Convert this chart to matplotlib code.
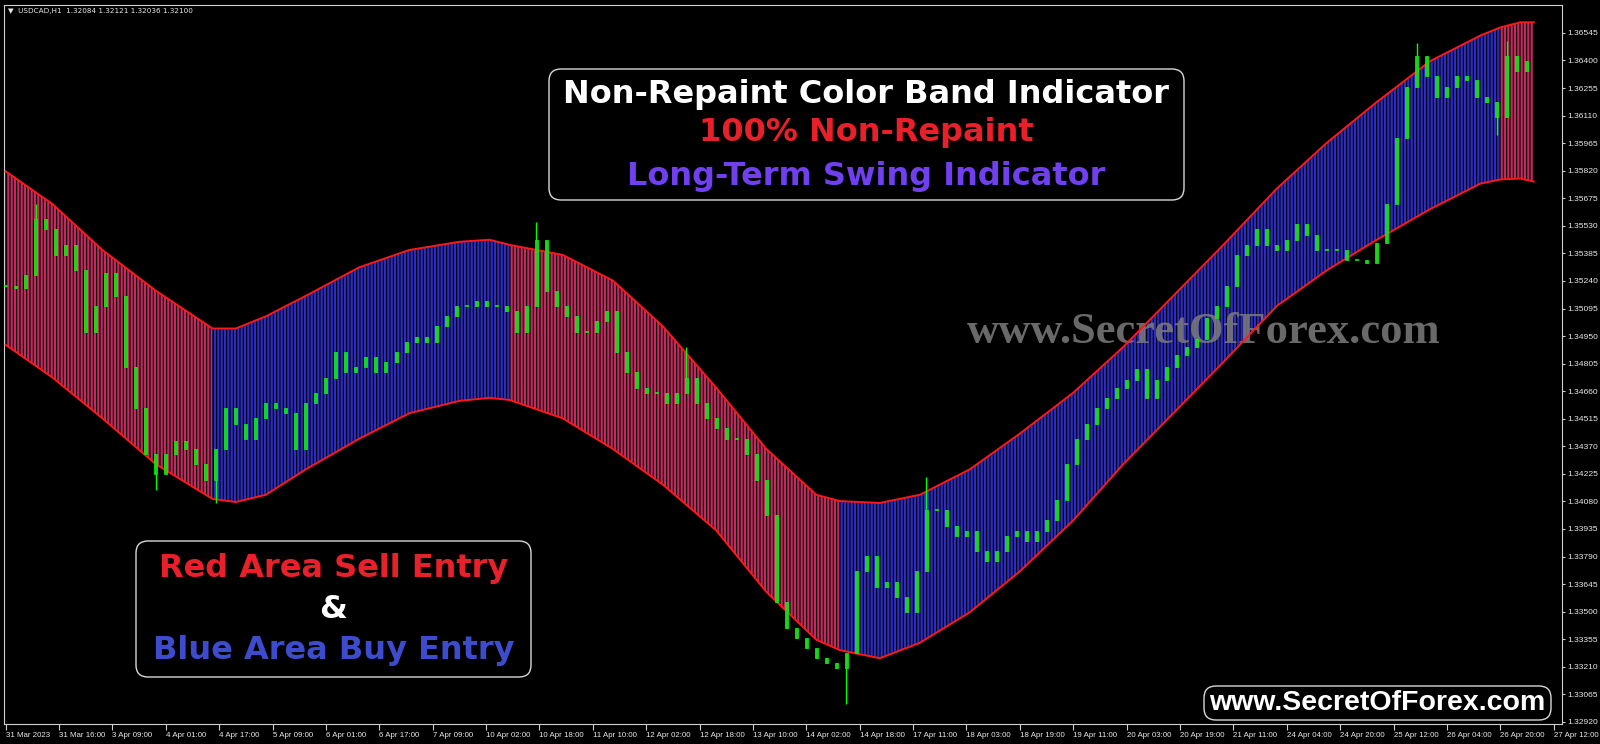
import numpy as np
import matplotlib.pyplot as plt
from matplotlib.patches import FancyBboxPatch

# ---- band (bar index, price) ----
band_x = [0, 14, 29, 45, 62, 69, 78, 90, 106, 121, 136, 145, 151, 167, 182, 197, 213, 228, 243, 250,
          262, 274, 289, 304, 320, 335, 350, 365, 381, 396, 411, 427, 442, 448, 454, 458]
band_upper = [1.35817, 1.35645, 1.35403, 1.35189, 1.34990, 1.34990, 1.35054, 1.35162, 1.35312, 1.35403,
              1.35446, 1.35457, 1.35430, 1.35377, 1.35242, 1.35001, 1.34678, 1.34356, 1.34115, 1.34082,
              1.34072, 1.34115, 1.34249, 1.34437, 1.34652, 1.34893, 1.35162, 1.35430, 1.35726, 1.35967,
              1.36182, 1.36397, 1.36531, 1.36574, 1.36601, 1.36601]
band_lower = [1.34904, 1.34732, 1.34517, 1.34276, 1.34093, 1.34077, 1.34115, 1.34249, 1.34410, 1.34544,
              1.34609, 1.34625, 1.34614, 1.34517, 1.34356, 1.34168, 1.33927, 1.33604, 1.33352, 1.33298,
              1.33255, 1.33336, 1.33497, 1.33712, 1.33980, 1.34276, 1.34544, 1.34813, 1.35108, 1.35296,
              1.35457, 1.35618, 1.35752, 1.35774, 1.35779, 1.35763]
zone_edges = [0, 62, 151, 250, 448, 458]
zone_kind = ['sell', 'buy', 'sell', 'buy', 'sell']

# ---- candles (one every 3 bars) ----
candle_x = list(range(0, 457, 3))
closes = [1.35215, 1.35205, 1.35269, 1.35564, 1.35511, 1.35377, 1.35430, 1.35296, 1.34974, 1.35108,
          1.35280, 1.35162, 1.34786, 1.34571, 1.34329, 1.34222, 1.34329, 1.34399, 1.34356, 1.34276,
          1.34195, 1.34356, 1.34571, 1.34490, 1.34410, 1.34517, 1.34598, 1.34571, 1.34544, 1.34356,
          1.34598, 1.34652, 1.34732, 1.34866, 1.34759, 1.34786, 1.34840, 1.34759, 1.34813, 1.34866,
          1.34920, 1.34947, 1.34920, 1.35001, 1.35054, 1.35108, 1.35108, 1.35135, 1.35108, 1.35108,
          1.35081, 1.34974, 1.35108, 1.35457, 1.35189, 1.35108, 1.35054, 1.34974, 1.34974, 1.35027,
          1.35081, 1.34866, 1.34759, 1.34678, 1.34652, 1.34652, 1.34598, 1.34652, 1.34732, 1.34598,
          1.34517, 1.34464, 1.34410, 1.34410, 1.34329, 1.34195, 1.34007, 1.33551, 1.33416, 1.33363,
          1.33309, 1.33255, 1.33229, 1.33202, 1.33282, 1.33712, 1.33792, 1.33631, 1.33658, 1.33578,
          1.33497, 1.33712, 1.34034, 1.34034, 1.33953, 1.33900, 1.33927, 1.33819, 1.33766, 1.33819,
          1.33900, 1.33927, 1.33873, 1.33927, 1.33980, 1.34088, 1.34276, 1.34410, 1.34490, 1.34571,
          1.34625, 1.34678, 1.34721, 1.34775, 1.34625, 1.34721, 1.34786, 1.34850, 1.34893, 1.34936,
          1.35044, 1.35108, 1.35215, 1.35377, 1.35430, 1.35511, 1.35430, 1.35403, 1.35457, 1.35538,
          1.35484, 1.35403, 1.35403, 1.35403, 1.35350, 1.35350, 1.35334, 1.35441, 1.35645, 1.35994,
          1.36263, 1.36424, 1.36316, 1.36209, 1.36263, 1.36316, 1.36300, 1.36209, 1.36182, 1.36101,
          1.36424, 1.36343, 1.36397]
wick_high = {3: 1.35645, 53: 1.35550, 68: 1.34893, 92: 1.34206, 141: 1.36494, 150: 1.36504}
wick_low = {15: 1.34141, 21: 1.34072, 84: 1.33014, 149: 1.36010}

time_labels = ['31 Mar 2023', '31 Mar 16:00', '3 Apr 09:00', '4 Apr 01:00', '4 Apr 17:00', '5 Apr 09:00',
               '6 Apr 01:00', '6 Apr 17:00', '7 Apr 09:00', '10 Apr 02:00', '10 Apr 18:00', '11 Apr 10:00',
               '12 Apr 02:00', '12 Apr 18:00', '13 Apr 10:00', '14 Apr 02:00', '14 Apr 18:00', '17 Apr 11:00',
               '18 Apr 03:00', '18 Apr 19:00', '19 Apr 11:00', '20 Apr 03:00', '20 Apr 19:00', '21 Apr 11:00',
               '24 Apr 04:00', '24 Apr 20:00', '25 Apr 12:00', '26 Apr 04:00', '26 Apr 20:00', '27 Apr 12:00']
price_ticks = [1.32920, 1.33065, 1.33210, 1.33355, 1.33500, 1.33645, 1.33790, 1.33935, 1.34080, 1.34225,
               1.34370, 1.34515, 1.34660, 1.34805, 1.34950, 1.35095, 1.35240, 1.35385, 1.35530, 1.35675,
               1.35820, 1.35965, 1.36110, 1.36255, 1.36400, 1.36545]

zone_color = {'sell': '#c02c5e', 'buy': '#2c2cc0'}

plt.rcParams['hatch.linewidth'] = 1.6

fig = plt.figure(figsize=(16, 7.44), dpi=100, facecolor='black')
ax = fig.add_axes([4 / 1600, 20 / 744, 1558 / 1600, 719 / 744])
ax.set_facecolor('black')

# band zones with vertical stripes
bx = np.array(band_x)
for a, b, kind in zip(zone_edges[:-1], zone_edges[1:], zone_kind):
    m = (bx >= a) & (bx <= b)
    ax.fill_between(bx[m], np.array(band_lower)[m], np.array(band_upper)[m], facecolor='black',
                    edgecolor=zone_color[kind], hatch='|||||', linewidth=0, zorder=1)
ax.plot(band_x, band_upper, color='#ff1818', lw=1.4, zorder=3)
ax.plot(band_x, band_lower, color='#ff1818', lw=1.4, zorder=3)

# watermark
ax.text(12.04, 4.12, 'www.SecretOfForex.com', transform=fig.dpi_scale_trans, ha='center', va='center',
        fontsize=32, fontweight='bold', family='Liberation Serif', color='#7c7c7c', alpha=0.85, zorder=2)

# candles
opens = [closes[0]] + closes[:-1]
highs = [wick_high.get(k, max(o, c)) for k, (o, c) in enumerate(zip(opens, closes))]
lows = [wick_low.get(k, min(o, c)) for k, (o, c) in enumerate(zip(opens, closes))]
ax.vlines(candle_x, lows, highs, color='#00ff00', lw=1, zorder=4)
body_lo = np.minimum(opens, closes)
body_h = np.maximum(np.abs(np.array(closes) - np.array(opens)), 0.00004)
ax.bar(candle_x, body_h, bottom=body_lo, width=0.9, color='#20d020', edgecolor='#00ff00', lw=0.5, zorder=5)

ax.set_xlim(-0.5, 466.5)
ax.set_ylim(1.32909, 1.36692)

ax.set_xticks(range(0, 16 * len(time_labels), 16))
ax.set_xticklabels(time_labels, ha='left', family='Liberation Sans', fontsize=5.7)
ax.yaxis.tick_right()
ax.set_yticks(price_ticks)
ax.set_yticklabels(['%.5f' % p for p in price_ticks], family='Liberation Sans', fontsize=6.1)
ax.tick_params(axis='x', colors='#d0d0d0', length=4, width=0.8, pad=1.5, labelcolor='#e8e8e8')
ax.tick_params(axis='y', colors='#d0d0d0', length=2.5, width=0.8, pad=1, labelcolor='#e8e8e8')
for s in ax.spines.values():
    s.set_color('#d0d0d0')
    s.set_linewidth(0.8)

# header
fig.text(8 / 1600, 1 - 11 / 744, '\u25bc  USDCAD,H1  1.32084 1.32121 1.32036 1.32100', fontsize=5.2,
         color='#e8e8e8', va='center', ha='left')

# info boxes
def box(x0, y0, w, h):
    fig.add_artist(FancyBboxPatch((x0, y0), w, h, boxstyle='round,pad=0,rounding_size=0.12',
                                  transform=fig.dpi_scale_trans, facecolor='black',
                                  edgecolor='#d8d8d8', lw=1, zorder=5))

def label(x, y, s, color, size, family='DejaVu Sans'):
    fig.text(x, y, s, transform=fig.dpi_scale_trans, ha='center', va='center', color=color,
             fontsize=size, fontweight='bold', family=family, zorder=6)

box(5.49, 5.44, 6.35, 1.31)
label(8.665, 6.50, 'Non-Repaint Color Band Indicator', 'white', 23)
label(8.665, 6.11, '100% Non-Repaint', '#e8202a', 23)
label(8.665, 5.68, 'Long-Term Swing Indicator', '#7040f0', 23)

box(1.36, 0.67, 3.95, 1.36)
label(3.335, 1.76, 'Red Area Sell Entry', '#e8202a', 23)
label(3.335, 1.34, '&', 'white', 23)
label(3.335, 0.94, 'Blue Area Buy Entry', '#3d4ccc', 23)

box(12.04, 0.24, 3.47, 0.34)
label(13.775, 0.41, 'www.SecretOfForex.com', 'white', 20.5, 'Liberation Sans')

fig.savefig('out.png', dpi=100, facecolor='black')
